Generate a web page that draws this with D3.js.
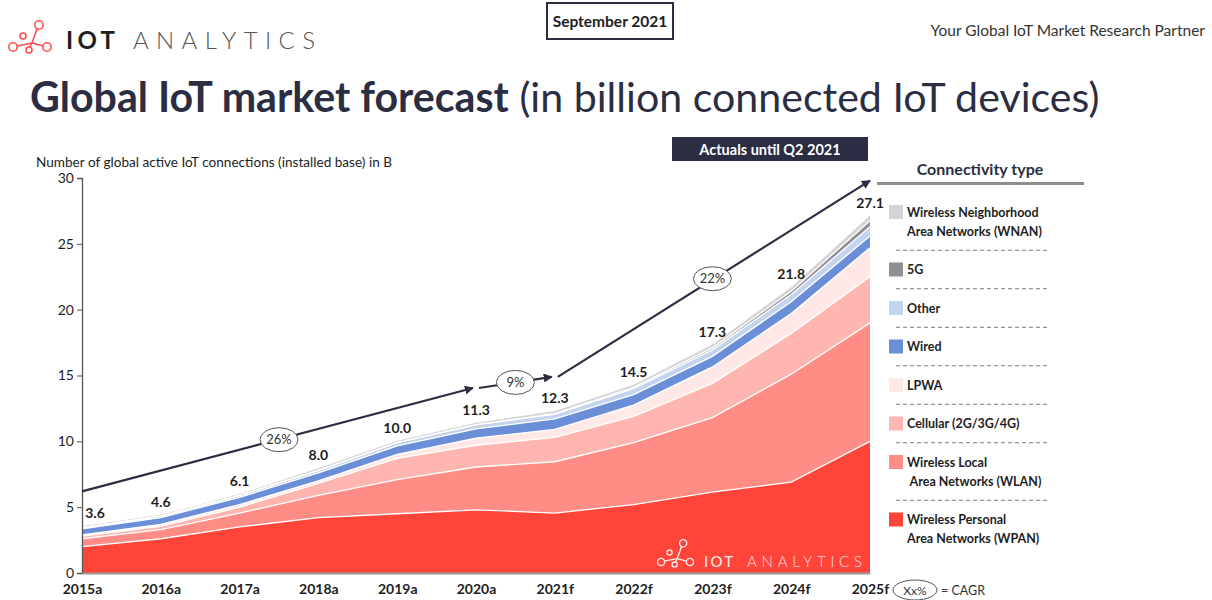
<!DOCTYPE html>
<html><head><meta charset="utf-8">
<script src="https://cdn.jsdelivr.net/npm/d3@7"></script>
<style>
html,body{margin:0;padding:0;background:#fff;}
svg{display:block;font-family:Lato,"Open Sans",sans-serif;}
</style></head>
<body>
<svg id="chart" width="1212" height="600"></svg>
<script>
// ---------- DATA ----------
const years = ["2015a","2016a","2017a","2018a","2019a","2020a","2021f","2022f","2023f","2024f","2025f"];
const wpan     = [2.0, 2.6, 3.5, 4.2, 4.5, 4.8, 4.55, 5.2, 6.15, 6.9, 10.0];
const wlan     = [0.6, 0.7, 1.05, 1.7, 2.6, 3.25, 3.9, 4.7, 5.65, 8.2, 9.0];
const cellular = [0.2, 0.25, 0.45, 0.9, 1.6, 1.65, 1.85, 2.0, 2.6, 3.1, 3.5];
const lpwa     = [0.1, 0.15, 0.2, 0.2, 0.3, 0.55, 0.6, 0.85, 1.25, 1.5, 2.2];
const wired    = [0.45, 0.5, 0.55, 0.6, 0.65, 0.7, 0.8, 0.8, 0.8, 0.9, 0.9];
const other    = [0.1, 0.12, 0.15, 0.2, 0.25, 0.3, 0.35, 0.45, 0.5, 0.55, 0.7];
const fiveG    = [0, 0, 0, 0, 0, 0.02, 0.05, 0.1, 0.15, 0.25, 0.45];
const wnan     = [0.1, 0.1, 0.1, 0.15, 0.15, 0.15, 0.2, 0.2, 0.25, 0.3, 0.4];
const totals   = [3.6, 4.6, 6.1, 8.0, 10.0, 11.3, 12.3, 14.5, 17.3, 21.8, 27.1];
const yTicks   = [0, 5, 10, 15, 20, 25, 30];

const seriesKeys   = ["WPAN","WLAN","Cellular","LPWA","Wired","Other","5G","WNAN"];
const seriesValues = [wpan, wlan, cellular, lpwa, wired, other, fiveG, wnan];
const seriesColors = ["#ff453a","#ff8c85","#ffb6b1","#ffe8e6","#6a8fd8","#c4d3ef","#8f8f93","#d4d4d6"];

// legend (top to bottom)
const legendKeys   = ["WNAN","5G","Other","Wired","LPWA","Cellular","WLAN","WPAN"];
const legendLabels = [
  ["Wireless Neighborhood","Area Networks (WNAN)"],
  ["5G"],["Other"],["Wired"],["LPWA"],["Cellular (2G/3G/4G)"],
  ["Wireless Local","\u00a0Area Networks (WLAN)"],
  ["Wireless Personal","Area Networks (WPAN)"]
];

// CAGR arrows
const cagrFrom  = ["2015a","2020a","2021f"];
const cagrFromV = [6.2, 14.05, 14.9];
const cagrTo    = ["2020a","2021f","2025f"];
const cagrToV   = [14.05, 14.9, 29.8];
const cagrLabel = ["26%","9%","22%"];

// ---------- SETUP ----------
const svg = d3.select("#chart");
const dark = "#2b2d42";
const x = d3.scalePoint().domain(years).range([82, 870]);
const y = d3.scaleLinear().domain([0, 30]).range([573, 178]);

const rows = years.map((yr, i) => {
  const r = {year: yr};
  seriesKeys.forEach((k, j) => r[k] = seriesValues[j][i]);
  return r;
});
const stack = d3.stack().keys(seriesKeys)(rows);
const colorOf = d3.scaleOrdinal().domain(seriesKeys).range(seriesColors);

// ---------- HEADER ----------
function logo(g, col) {
  const circles = [[39,25,4.2],[23,36,3],[13,47,4.2],[29,50,3],[47,47,4.2]];
  const lines = [[[37,29],[32,43]],[[32,43],[17,46]],[[32,43],[43,46]],[[32,43],[30,47]]];
  lines.forEach(l => g.append("line").attr("x1",l[0][0]).attr("y1",l[0][1]).attr("x2",l[1][0]).attr("y2",l[1][1])
      .attr("stroke", col).attr("stroke-width",1.6));
  circles.forEach(c => g.append("circle").attr("cx",c[0]).attr("cy",c[1]).attr("r",c[2])
      .attr("fill", "none").attr("stroke", col).attr("stroke-width",1.6));
}
logo(svg.append("g"), "#ff4d4d");
svg.append("text").attr("x",66).attr("y",49).attr("font-size",24).attr("font-weight",700)
  .attr("textLength",49).attr("lengthAdjust","spacing").attr("fill","#1e1e1e").text("IOT");
svg.append("text").attr("x",133).attr("y",49).attr("font-size",24).attr("font-weight",300)
  .attr("textLength",182).attr("lengthAdjust","spacing").attr("fill","#555").text("ANALYTICS");

svg.append("rect").attr("x",547).attr("y",3).attr("width",126).attr("height",36)
  .attr("fill","#fff").attr("stroke",dark).attr("stroke-width",2);
svg.append("text").attr("x",610).attr("y",27).attr("text-anchor","middle").attr("font-size",15.5)
  .attr("font-weight",700).attr("fill","#1e1e1e").text("September 2021");

svg.append("text").attr("x",1205).attr("y",36).attr("text-anchor","end").attr("font-size",15.5)
  .attr("fill","#333").text("Your Global IoT Market Research Partner");

const title = svg.append("text").attr("x",30).attr("y",112).attr("font-size",40).attr("fill",dark);
title.append("tspan").attr("font-weight",700).text("Global IoT market forecast");
title.append("tspan").attr("font-weight",400).text(" (in billion connected IoT devices)");
{
  const w = title.node().getComputedTextLength();
  title.attr("font-size", 40 * 1070 / w);
}

svg.append("text").attr("x",36).attr("y",167).attr("font-size",13.5).attr("fill","#1e1e1e")
  .attr("textLength",356).attr("lengthAdjust","spacingAndGlyphs")
  .text("Number of global active IoT connections (installed base) in B");

// Actuals box
svg.append("rect").attr("x",672).attr("y",137).attr("width",196).attr("height",24).attr("fill",dark);
svg.append("text").attr("x",770).attr("y",154.5).attr("text-anchor","middle").attr("font-size",14.5)
  .attr("font-weight",700).attr("fill","#fff").text("Actuals until Q2 2021");

// ---------- AREAS ----------
const area = d3.area().x(d => x(d.data.year)).y0(d => y(d[0])).y1(d => y(d[1]));
const lineTop = d3.line().x(d => x(d.data.year)).y(d => y(d[1]));
svg.append("g").selectAll("path").data(stack).join("path")
  .attr("d", area).attr("fill", d => colorOf(d.key));
svg.append("g").selectAll("path").data(stack.slice(0, 7)).join("path")
  .attr("d", lineTop).attr("fill","none").attr("stroke","#fff").attr("stroke-width",1.3);

// watermark
const wm = svg.append("g").attr("transform","translate(650,522) scale(0.85)").attr("opacity",0.9);
logo(wm, "#fff");
svg.append("text").attr("x",704).attr("y",567).attr("font-size",15).attr("font-weight",400)
  .attr("textLength",29).attr("lengthAdjust","spacing").attr("fill","#fff").attr("opacity",0.9).text("IOT");
svg.append("text").attr("x",747).attr("y",567).attr("font-size",15).attr("font-weight",300)
  .attr("textLength",115).attr("lengthAdjust","spacing").attr("fill","#fff").attr("opacity",0.8).text("ANALYTICS");

// ---------- AXES ----------
const yAxis = svg.append("g").attr("transform","translate(82,0)")
  .call(d3.axisLeft(y).tickValues(yTicks).tickSize(5).tickPadding(3));
yAxis.select(".domain").attr("stroke","#555").attr("stroke-width",1.3);
yAxis.selectAll(".tick line").attr("stroke","#555");
yAxis.selectAll(".tick text").attr("font-size",14).attr("font-family","Lato").attr("fill","#1e1e1e");

const xAxis = svg.append("g").attr("transform","translate(0,573)")
  .call(d3.axisBottom(x).tickSize(0).tickPadding(11));
xAxis.select(".domain").attr("stroke","#9a9a9a").attr("stroke-width",2);
xAxis.selectAll(".tick text").attr("font-size",14).attr("font-weight",700).attr("font-family","Lato").attr("fill","#1e1e1e");

// totals labels
svg.append("g").selectAll("text").data(totals).join("text")
  .attr("x", (d, i) => x(years[i]) + (i === 0 ? 13 : 0))
  .attr("y", (d, i) => y(stack[stack.length-1][i][1]) - 8)
  .attr("text-anchor","middle").attr("font-size",14).attr("font-weight",700).attr("fill","#1e1e1e")
  .text(d => d.toFixed(1));

// ---------- CAGR arrows ----------
svg.append("defs").append("marker").attr("id","arr").attr("viewBox","0 0 10 10")
  .attr("refX",9).attr("refY",5).attr("markerWidth",9).attr("markerHeight",9)
  .attr("markerUnits","userSpaceOnUse").attr("orient","auto")
  .append("path").attr("d","M0,0 L10,5 L0,10 Z").attr("fill",dark);
const cg = svg.append("g");
cagrLabel.forEach((lab, i) => {
  const x0 = x(cagrFrom[i]) + (i ? 3 : 0), y0 = y(cagrFromV[i]);
  const x1 = x(cagrTo[i]) - (i < 2 ? 3 : 0), y1 = y(cagrToV[i]);
  cg.append("line").attr("x1",x0).attr("y1",y0).attr("x2",x1).attr("y2",y1)
    .attr("stroke",dark).attr("stroke-width",2.2).attr("marker-end","url(#arr)");
  const mx = (x(cagrFrom[i]) + x(cagrTo[i])) / 2, my = (y(cagrFromV[i]) + y(cagrToV[i])) / 2;
  cg.append("ellipse").attr("cx",mx).attr("cy",my).attr("rx",19).attr("ry",12)
    .attr("fill","#fff").attr("stroke","#555").attr("stroke-width",1);
  cg.append("text").attr("x",mx).attr("y",my+4.5).attr("text-anchor","middle").attr("font-size",13)
    .attr("fill","#333").text(lab);
});

// CAGR key
svg.append("ellipse").attr("cx",915).attr("cy",590).attr("rx",22).attr("ry",10)
  .attr("fill","#fff").attr("stroke","#555").attr("stroke-width",1);
svg.append("text").attr("x",915).attr("y",594.5).attr("text-anchor","middle").attr("font-size",12).attr("fill","#333").text("Xx%");
svg.append("text").attr("x",941).attr("y",594.5).attr("font-size",12.5).attr("fill","#333").text("= CAGR");

// ---------- LEGEND ----------
svg.append("text").attr("x",980).attr("y",175).attr("text-anchor","middle").attr("font-size",16)
  .attr("font-weight",700).attr("fill",dark).text("Connectivity type");
svg.append("line").attr("x1",877).attr("x2",1084).attr("y1",183.5).attr("y2",183.5)
  .attr("stroke","#8c8c8c").attr("stroke-width",3);

const leg = svg.append("g");
let ly = 212;
legendKeys.forEach((k, i) => {
  const labs = legendLabels[i];
  leg.append("rect").attr("x",889).attr("y",ly-7).attr("width",14).attr("height",14).attr("fill",colorOf(k));
  labs.forEach((t, j) => leg.append("text").attr("x",907).attr("y",ly + 4.5 + j*19)
    .attr("font-size",12.5).attr("font-weight",700).attr("fill","#1e1e1e").text(t));
  const last = ly + (labs.length-1)*19;
  if (i < legendKeys.length-1) {
    const next = last + 38.5;
    leg.append("line").attr("x1",896).attr("x2",1047).attr("y1",(last+next)/2).attr("y2",(last+next)/2)
      .attr("stroke","#777").attr("stroke-width",1).attr("stroke-dasharray","4,3");
    ly = next;
  }
});
</script>
</body></html>
